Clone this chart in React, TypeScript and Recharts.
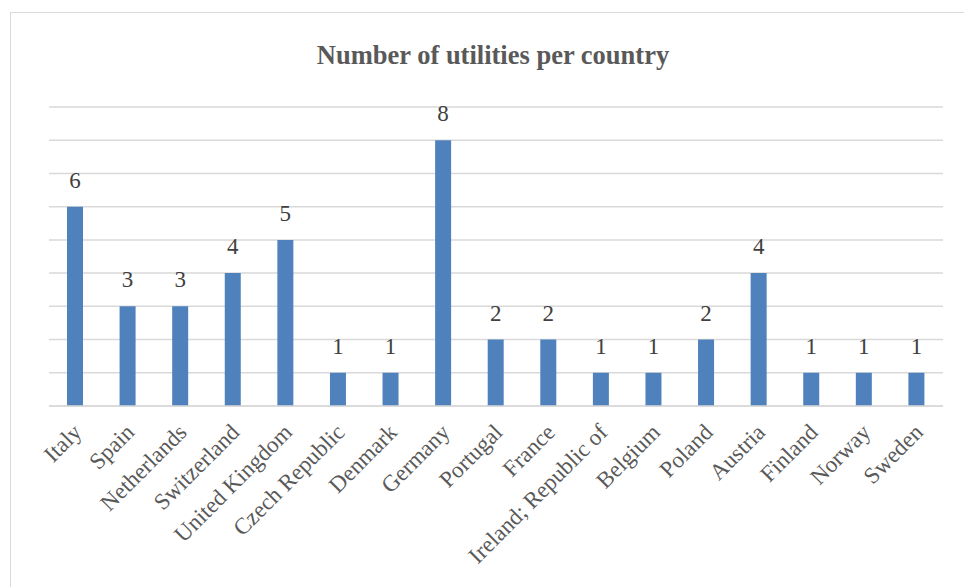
import React from 'react';
import { BarChart, Bar, XAxis, YAxis, CartesianGrid, LabelList } from 'recharts';

const countries = [
  'Italy', 'Spain', 'Netherlands', 'Switzerland', 'United Kingdom', 'Czech Republic',
  'Denmark', 'Germany', 'Portugal', 'France', 'Ireland; Republic of', 'Belgium',
  'Poland', 'Austria', 'Finland', 'Norway', 'Sweden',
];
const utilities = [6, 3, 3, 4, 5, 1, 1, 8, 2, 2, 1, 1, 2, 4, 1, 1, 1];
const yTicks = [0, 1, 2, 3, 4, 5, 6, 7, 8, 9];

const data = countries.map((name, i) => ({ name, value: utilities[i] }));

const FONT = '"Liberation Serif", "Times New Roman", serif';

const CountryTick = ({ x, y, payload }: any) => (
  <g transform={`translate(${x + 2},${y + 14})`}>
    <text
      x={0}
      y={0}
      dy={8}
      textAnchor="end"
      transform="rotate(-45)"
      fill="#595959"
      fontSize={23}
      fontFamily={FONT}
    >
      {payload.value}
    </text>
  </g>
);

export default function App() {
  return (
    <div style={{ position: 'absolute', left: 0, top: 0, width: 964, height: 587, background: '#fff', overflow: 'hidden' }}>
      <div
        style={{
          position: 'absolute', left: 10, top: 12, width: 980, height: 600,
          border: '1px solid #d9d9d9', boxSizing: 'border-box',
        }}
      />
      <div
        style={{
          position: 'absolute', left: 0, top: 40, width: 986, textAlign: 'center',
          fontFamily: FONT, fontWeight: 'bold', fontSize: 26.5, color: '#595959',
        }}
      >
        Number of utilities per country
      </div>
      <div style={{ position: 'absolute', left: 0, top: 0 }}>
        <BarChart
          width={964}
          height={587}
          data={data}
          margin={{ top: 107, right: 21, left: 49, bottom: 0 }}
        >
          <CartesianGrid vertical={false} stroke="#d9d9d9" strokeWidth={1.5} />
          <YAxis hide domain={[0, 9]} ticks={yTicks} />
          <XAxis
            dataKey="name"
            interval={0}
            axisLine={{ stroke: '#d9d9d9', strokeWidth: 1.5 }}
            tickLine={false}
            tick={<CountryTick />}
            height={181}
          />
          <Bar dataKey="value" fill="#4F81BD" barSize={16} isAnimationActive={false}>
            <LabelList
              dataKey="value"
              position="top"
              offset={19}
              fill="#404040"
              fontSize={23}
              fontFamily={FONT}
            />
          </Bar>
        </BarChart>
      </div>
    </div>
  );
}
